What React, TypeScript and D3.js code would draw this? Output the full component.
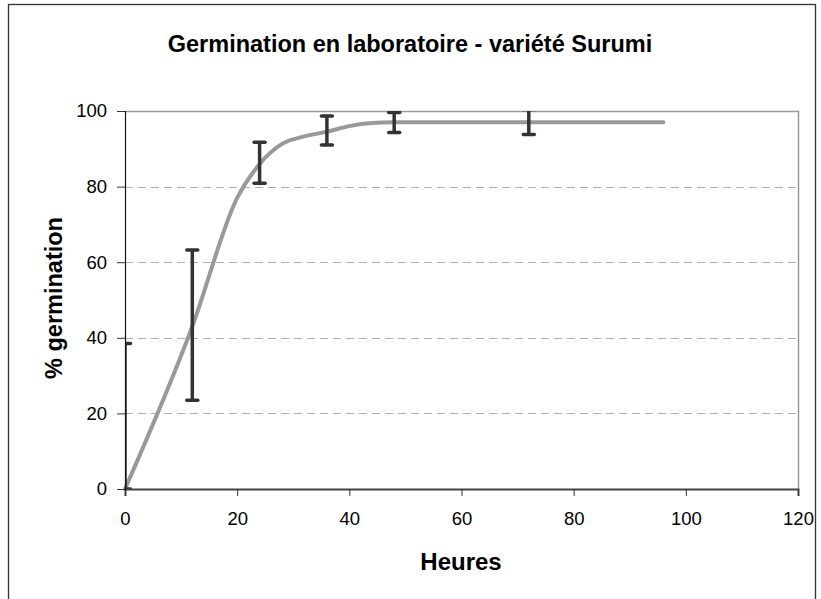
import React, { useEffect, useRef } from "react";
import * as d3 from "d3";

// smoothed curve points (hours, % germination)
const curveHours = [0, 12, 20, 24, 28, 32, 36, 40, 44, 48, 72, 96];
const curveValues = [0, 43, 77, 86, 91.3, 93.3, 94.5, 96, 96.8, 97, 97, 97];

// error bars
const barHours = [0, 12, 24, 36, 48, 72];
const barLow = [0, 23.5, 80.9, 91, 94.3, 93.8];
const barHigh = [38.5, 63.2, 91.7, 98.7, 99.6, 100.4];

const xTicks = [0, 20, 40, 60, 80, 100, 120];
const yTicks = [0, 20, 40, 60, 80, 100];

const FONT = "'Liberation Sans', Arial, sans-serif";

const App = () => {
  const ref = useRef<SVGSVGElement>(null);

  useEffect(() => {
    const width = 821;
    const height = 599;
    const margin = { top: 111, right: 23, bottom: 110, left: 125 };

    const svg = d3.select(ref.current);
    svg.selectAll("*").remove();

    const x = d3.scaleLinear().domain([0, 120]).range([margin.left, width - margin.right]);
    const y = d3.scaleLinear().domain([0, 100]).range([height - margin.bottom, margin.top]);

    // outer frame
    svg
      .append("rect")
      .attr("x", 8.5)
      .attr("y", 4.5)
      .attr("width", 807)
      .attr("height", 600)
      .attr("fill", "#fff")
      .attr("stroke", "#333")
      .attr("stroke-width", 1.3);

    svg
      .append("defs")
      .append("clipPath")
      .attr("id", "plot-clip")
      .append("rect")
      .attr("x", x(0))
      .attr("y", y(100))
      .attr("width", x(120) - x(0))
      .attr("height", y(0) - y(100));

    // grid
    svg
      .selectAll(".grid")
      .data([20, 40, 60, 80])
      .enter()
      .append("line")
      .attr("x1", x(0))
      .attr("x2", x(120))
      .attr("y1", (d) => Math.round(y(d)) + 0.5)
      .attr("y2", (d) => Math.round(y(d)) + 0.5)
      .attr("stroke", "#b0b0b0")
      .attr("stroke-dasharray", "8,5")
      .attr("stroke-width", 1);

    // top & right border of plot area
    svg
      .append("path")
      .attr("d", `M${x(0)},${Math.round(y(100)) + 0.5}H${Math.round(x(120)) + 0.5}V${y(0)}`)
      .attr("fill", "none")
      .attr("stroke", "#999")
      .attr("stroke-width", 1.5);

    // curve
    const line = d3
      .line<number>()
      .x((d, i) => x(curveHours[i]))
      .y((d) => y(d))
      .curve(d3.curveMonotoneX);

    svg
      .append("path")
      .datum(curveValues)
      .attr("d", line)
      .attr("fill", "none")
      .attr("stroke", "#999")
      .attr("stroke-width", 4)
      .attr("stroke-linecap", "round");

    // error bars
    const bars = svg.append("g").attr("clip-path", "url(#plot-clip)");
    barHours.forEach((h, i) => {
      const cx = x(h);
      bars
        .append("line")
        .attr("x1", cx)
        .attr("x2", cx)
        .attr("y1", y(barLow[i]))
        .attr("y2", y(barHigh[i]))
        .attr("stroke", "#333")
        .attr("stroke-width", 3.5);
      [barLow[i], barHigh[i]].forEach((v) => {
        bars
          .append("line")
          .attr("x1", cx - 5.5)
          .attr("x2", cx + 5.5)
          .attr("y1", y(v))
          .attr("y2", y(v))
          .attr("stroke", "#333")
          .attr("stroke-width", 3.5)
          .attr("stroke-linecap", "round");
      });
    });

    // axes
    const xAxis = svg
      .append("g")
      .attr("transform", `translate(0, ${y(0)})`)
      .call(d3.axisBottom(x).tickValues(xTicks).tickSize(7).tickPadding(16));
    xAxis.select(".domain").attr("stroke", "#444").attr("stroke-width", 2);
    xAxis.selectAll(".tick line").attr("stroke", "#333");
    xAxis
      .selectAll("text")
      .style("font-family", FONT)
      .style("font-size", "18.5px")
      .attr("fill", "#000");

    const yAxis = svg
      .append("g")
      .attr("transform", `translate(${x(0)}, 0)`)
      .call(d3.axisLeft(y).tickValues(yTicks).tickSize(8).tickPadding(10));
    yAxis.select(".domain").attr("stroke", "#111").attr("stroke-width", 1.2);
    yAxis.selectAll(".tick line").attr("stroke", "#333");
    yAxis
      .selectAll("text")
      .style("font-family", FONT)
      .style("font-size", "18.5px")
      .attr("fill", "#000");

    // titles
    svg
      .append("text")
      .attr("x", 410)
      .attr("y", 52)
      .attr("text-anchor", "middle")
      .style("font-family", FONT)
      .style("font-size", "23.5px")
      .style("font-weight", "bold")
      .text("Germination en laboratoire - variété Surumi");

    svg
      .append("text")
      .attr("x", 461)
      .attr("y", 570)
      .attr("text-anchor", "middle")
      .style("font-family", FONT)
      .style("font-size", "24px")
      .style("font-weight", "bold")
      .text("Heures");

    svg
      .append("text")
      .attr("transform", `translate(62, 298) rotate(-90)`)
      .attr("text-anchor", "middle")
      .style("font-family", FONT)
      .style("font-size", "23.5px")
      .style("font-weight", "bold")
      .text("% germination");
  }, []);

  return (
    <svg
      ref={ref}
      width={821}
      height={599}
      style={{ position: "absolute", left: 0, top: 0, display: "block" }}
    />
  );
};

export default App;
